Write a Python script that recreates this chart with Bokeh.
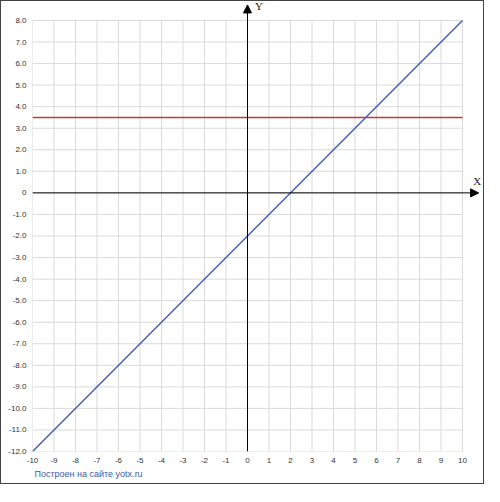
from bokeh.plotting import figure
from bokeh.models import Range1d, FixedTicker, Arrow, NormalHead, Label, Title
from bokeh.embed import file_html
from bokeh.resources import INLINE

# data
x_ticks = list(range(-10, 11))
x_tick_labels = [str(v) for v in x_ticks]
y_ticks = list(range(-12, 9))
y_tick_labels = ["0" if v == 0 else f"{v:.1f}" for v in y_ticks]

line_x = [-10, 10]
blue_y = [-12, 8]          # y = x - 2
red_y = [3.5, 3.5]         # y = 3.5

x_min, x_max = x_ticks[0], x_ticks[-1]
y_min, y_max = y_ticks[0], y_ticks[-1]

p = figure(width=484, height=484, output_backend="svg", toolbar_location=None,
           x_range=Range1d(-10, 11.07), y_range=Range1d(-12, 8.88),
           min_border_left=31, min_border_right=0, min_border_top=0, min_border_bottom=34)
p.styles = {"border": "1px solid #444"}
p.background_fill_color = "white"
p.border_fill_color = "white"
p.outline_line_color = None
p.xgrid.visible = False
p.ygrid.visible = False

for ax, ticks, labels in ((p.xaxis[0], x_ticks, x_tick_labels), (p.yaxis[0], y_ticks, y_tick_labels)):
    ax.ticker = FixedTicker(ticks=ticks)
    ax.major_label_overrides = {t: l for t, l in zip(ticks, labels)}
    ax.axis_line_color = None
    ax.major_tick_line_color = None
    ax.minor_tick_line_color = None
    ax.major_tick_out = 0
    ax.major_tick_in = 0
    ax.minor_tick_out = 0
    ax.minor_tick_in = 0
    ax.major_label_text_font = "Liberation Sans"
    ax.major_label_text_font_size = "8px"
    ax.major_label_text_color = "#333333"
    ax.major_label_standoff = 6

# grid lines limited to the plotted region
p.segment(x0=x_ticks, y0=[y_min] * len(x_ticks), x1=x_ticks, y1=[y_max] * len(x_ticks),
          line_color="#dadada", line_width=1)
p.segment(x0=[x_min] * len(y_ticks), y0=y_ticks, x1=[x_max] * len(y_ticks), y1=y_ticks,
          line_color="#dadada", line_width=1)

p.line(line_x, red_y, line_color="#c0393b", line_width=1.5)
p.line(line_x, blue_y, line_color="#4a5fb3", line_width=1.5)

# coordinate axes with arrows
p.add_layout(Arrow(end=NormalHead(size=8, fill_color="black", line_color="black"),
                   x_start=x_min, y_start=0, x_end=10.75, y_end=0,
                   line_color="black", line_width=1))
p.add_layout(Arrow(end=NormalHead(size=8, fill_color="black", line_color="black"),
                   x_start=0, y_start=y_min, x_end=0, y_end=8.72,
                   line_color="black", line_width=1))
p.add_layout(Label(x=0.35, y=8.65, text="Y", text_font="Liberation Serif",
                   text_font_size="11px", text_baseline="middle", text_color="#222222"))
p.add_layout(Label(x=10.5, y=0.56, text="X", text_font="Liberation Serif",
                   text_font_size="11px", text_baseline="middle", text_color="#222222"))

# footer
p.add_layout(Title(text="Построен на сайте yotx.ru", align="left", text_font="Liberation Sans",
                   text_font_size="9px", text_font_style="normal", text_color="#3a5aa8",
                   standoff=2, offset=2), "below")

open("out.html", "w").write(file_html(p, INLINE))
